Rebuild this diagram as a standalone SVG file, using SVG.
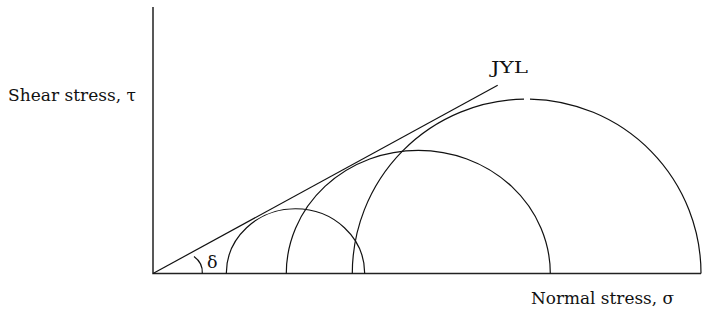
<svg xmlns="http://www.w3.org/2000/svg" width="702" height="322" viewBox="0 0 702 322">
<style>
.ln{fill:none;stroke:#111;stroke-width:1.2}
.ax{fill:none;stroke:#222;stroke-width:1.5}
.t{font-family:'DejaVu Serif',serif;font-size:17.5px;fill:#111}
</style>
<rect width="702" height="322" fill="#fff"/>
<g id="axes">
<path class="ax" d="M153,7 V273.5 H701"/>
</g>
<g id="circles">
<path class="ln" d="M226.3,273.5 A69.2,64.8 0 0 1 364.7,273.5"/>
<path class="ln" d="M286.3,273.5 A132,123.2 0 0 1 550.3,273.5"/>
<path class="ln" d="M352.3,273.5 A174.4,174.4 0 0 1 524,99.1"/>
<path class="ln" d="M530,99.1 A174.4,174.4 0 0 1 701,273.5"/>
</g>
<g id="yield-locus">
<path class="ln" d="M153,273.5 L497.7,85.3"/>
<path class="ln" d="M194,256.5 Q203,263 202.3,273.5"/>
</g>
<g id="labels">
<text class="t" x="491" y="73" textLength="37" lengthAdjust="spacingAndGlyphs">JYL</text>
<text class="t" x="207" y="268" font-size="19">δ</text>
<text class="t" x="8" y="101" textLength="128" lengthAdjust="spacingAndGlyphs">Shear stress, τ</text>
<text class="t" x="531" y="304" textLength="143" lengthAdjust="spacingAndGlyphs">Normal stress, σ</text>
</g>
</svg>
